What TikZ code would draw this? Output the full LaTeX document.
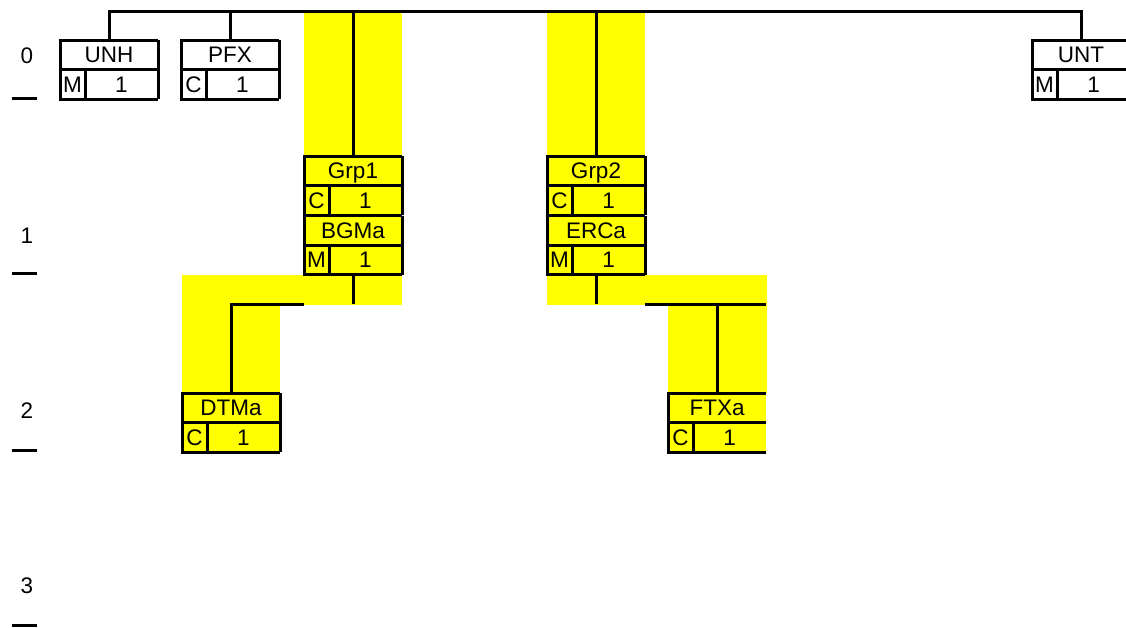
\documentclass[tikz,border=0pt]{standalone}
\usepackage{fontspec}
\setmainfont{Liberation Sans}
\usetikzlibrary{calc}
\definecolor{hl}{RGB}{255,255,0}
\tikzset{
  ln/.style={line width=3pt, line join=miter},
  boxbg/.style={rectangle, minimum width=98pt, minimum height=59pt, inner sep=0pt, outer sep=0pt, draw=none},
  lbl/.style={font=\fontsize{22.5}{24}\selectfont, inner sep=0pt, text height=16.1pt, text depth=0pt},
  band/.style={fill=hl, draw=none}
}
\newcommand\segbox[8]{%
  \node[boxbg, fill=#7, anchor=north west] (#1) at (#2,#3) {};
  \draw[ln] (#1.north east) -- (#1.north west) -- (#1.south west) -- (#1.south east);
  \draw[ln, #8] (#1.north east) -- (#1.south east);
  \draw[ln] (#1.west) -- (#1.east);
  \draw[ln] ([xshift=25pt]#1.west) -- ([xshift=25pt]#1.south west);
  \node[lbl] (#1-t) at ($(#1.north)!0.5!(#1.center)$) {#4};
  \node[lbl] (#1-s) at ($(#1.west)!0.5!([xshift=25pt]#1.south west)$) {#5};
  \node[lbl] (#1-c) at ($([xshift=25pt]#1.west)!0.5!(#1.south east)$) {#6};
}
\begin{document}
\begin{tikzpicture}[x=1pt,y=-1pt]
\useasboundingbox (0,0) rectangle (1126,627);
\clip (0,0) rectangle (1126,627);
\fill[white] (0,0) rectangle (1126,627);
% yellow group bands
\fill[band] (304,11) rectangle (402,305);
\fill[band] (182,275) rectangle (402,305);
\fill[band] (182,305) rectangle (280,393);
\fill[band] (547,11) rectangle (645,305);
\fill[band] (547,275) rectangle (767,305);
\fill[band] (668,305) rectangle (767,393);
% level labels
\node[lbl] (l0) at (27,55) {0};
\node[lbl] (l1) at (27,235) {1};
\node[lbl] (l2) at (27,410) {2};
\node[lbl] (l3) at (27,585) {3};
\draw[ln] (12,98) -- (37,98);
\draw[ln] (12,273) -- (37,273);
\draw[ln] (12,450) -- (37,450);
\draw[ln] (12,625) -- (37,625);
% boxes
\segbox{unh}{60}{40}{UNH}{M}{1}{white}{}
\segbox{pfx}{181}{40}{PFX}{C}{1}{white}{}
\segbox{unt}{1032}{40}{UNT}{M}{1}{white}{draw=none}
\segbox{grp1}{304}{156}{Grp1}{C}{1}{hl}{}
\segbox{bgma}{304}{215.5}{BGMa}{M}{1}{hl}{}
\segbox{grp2}{547}{156}{Grp2}{C}{1}{hl}{}
\segbox{erca}{547}{215.5}{ERCa}{M}{1}{hl}{}
\segbox{dtma}{182}{393}{DTMa}{C}{1}{hl}{}
\segbox{ftxa}{668}{393}{FTXa}{C}{1}{hl}{draw=none}
% connectors
\coordinate (top) at (0,11);
\coordinate (b1) at (0,304);
\draw[ln] (unh.north) -- (unh.north |- top) -- (unt.north |- top) -- (unt.north);
\draw[ln] (pfx.north) -- (pfx.north |- top);
\draw[ln] (grp1.north) -- (grp1.north |- top);
\draw[ln] (grp2.north) -- (grp2.north |- top);
\draw[ln] (bgma.south) -- (bgma.south |- b1);
\coordinate (g1end) at (bgma.south west |- b1);
\draw[ln] (dtma.north) -- (dtma.north |- g1end) -- (g1end);
\draw[ln] (erca.south) -- (erca.south |- b1);
\coordinate (g2a) at (erca.south east |- b1);
\coordinate (g2b) at (ftxa.north east |- b1);
\draw[ln] (g2a) -- (g2b);
\draw[ln] (ftxa.north) -- (ftxa.north |- b1);
\end{tikzpicture}
\end{document}
